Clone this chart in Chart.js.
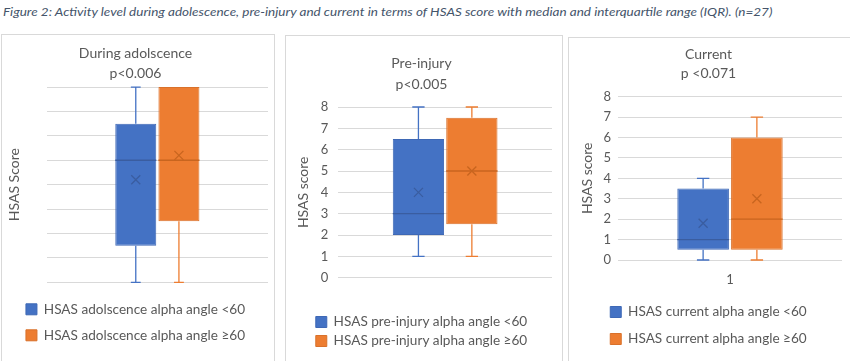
<!DOCTYPE html>
<html>
<head>
<meta charset="utf-8">
<script src="https://cdn.jsdelivr.net/npm/chart.js@4.4.0/dist/chart.umd.min.js"></script>
<style>
body { margin: 0; width: 850px; height: 361px; overflow: hidden; background: #fff; font-family: Lato, sans-serif; }
#caption { position: absolute; left: 3px; top: 4px; font-style: italic; font-size: 12px; color: #44546a; white-space: nowrap; transform-origin: 0 0; }
.panel { position: absolute; border: 1px solid #d9d9d9; background: #fff; overflow: hidden; }
canvas { display: block; }
</style>
</head>
<body>
<div id="caption">Figure 2: Activity level during adolescence, pre-injury and current in terms of HSAS score with median and interquartile range (IQR). (n=27)</div>
<div class="panel" style="left:1px;top:34px;width:272px;height:335px"><canvas id="adolChart" width="272" height="335"></canvas></div>
<div class="panel" style="left:285px;top:35px;width:276px;height:335px"><canvas id="preChart" width="276" height="335"></canvas></div>
<div class="panel" style="left:568px;top:37px;width:288px;height:335px"><canvas id="curChart" width="288" height="335"></canvas></div>
<script>
// values (HSAS score 0-8)
const groupColors = ['#4472c4', '#ed7d31'];
const edgeColors = ['#3e68b5', '#d9712b'];
const lineColors = ['#3a5da0', '#c8651f'];

const adolLabels = ['HSAS adolscence alpha angle <60', 'HSAS adolscence alpha angle \u226560'];
const adolMin = [0, 0];
const adolQ1 = [1.5, 2.5];
const adolMedian = [5, 5];
const adolQ3 = [6.5, 8];
const adolMax = [8, 8];
const adolMean = [4.2, 5.2];

const preLabels = ['HSAS pre-injury alpha angle <60', 'HSAS pre-injury alpha angle \u226560'];
const preMin = [1, 1];
const preQ1 = [2, 2.5];
const preMedian = [3, 5];
const preQ3 = [6.5, 7.5];
const preMax = [8, 8];
const preMean = [4, 5];

const curLabels = ['HSAS current alpha angle <60', 'HSAS current alpha angle \u226560'];
const curMin = [0, 0];
const curQ1 = [0.5, 0.5];
const curMedian = [1, 2];
const curQ3 = [3.5, 6];
const curMax = [4, 7];
const curMean = [1.8, 3];

const yTicks = [0, 1, 2, 3, 4, 5, 6, 7, 8];
const textColor = '#595959';
const fontFamily = 'Lato, sans-serif';

// squeeze the caption to the width it has in the figure
const cap = document.getElementById('caption');
cap.style.transform = 'scaleX(' + (769 / cap.offsetWidth) + ')';

const boxWhiskers = {
    id: 'boxWhiskers',
    afterDatasetsDraw(chart) {
        const ctx = chart.ctx;
        const y = chart.scales.y;
        chart.data.datasets.forEach((ds, i) => {
            const bar = chart.getDatasetMeta(i).data[0];
            const x = bar.x;
            const w = bar.width;
            const s = ds.stats;
            const capW = w * 0.12;
            ctx.save();
            ctx.lineWidth = 1.3;
            ctx.strokeStyle = ds.backgroundColor;
            ctx.beginPath();
            [[s.q3, s.max], [s.q1, s.min]].forEach(([a, b]) => {
                if (a === b) return;
                ctx.moveTo(x, y.getPixelForValue(a));
                ctx.lineTo(x, y.getPixelForValue(b));
                ctx.moveTo(x - capW, y.getPixelForValue(b));
                ctx.lineTo(x + capW, y.getPixelForValue(b));
            });
            ctx.stroke();
            ctx.strokeStyle = ds.lineColor;
            ctx.beginPath();
            const ym = y.getPixelForValue(s.median);
            ctx.moveTo(x - w / 2, ym);
            ctx.lineTo(x + w / 2, ym);
            ctx.stroke();
            const yMean = y.getPixelForValue(s.mean);
            const r = 4.5;
            ctx.beginPath();
            ctx.moveTo(x - r, yMean - r);
            ctx.lineTo(x + r, yMean + r);
            ctx.moveTo(x + r, yMean - r);
            ctx.lineTo(x - r, yMean + r);
            ctx.stroke();
            ctx.restore();
        });
    }
};

function makeBoxChart(id, cfg) {
    const datasets = cfg.labels.map((label, i) => ({
        label: label,
        data: [[cfg.q1[i], cfg.q3[i]]],
        backgroundColor: groupColors[i],
        borderColor: edgeColors[i],
        borderWidth: 1,
        borderSkipped: false,
        lineColor: lineColors[i],
        categoryPercentage: cfg.catPct,
        barPercentage: cfg.barPct,
        stats: { min: cfg.min[i], q1: cfg.q1[i], median: cfg.median[i], q3: cfg.q3[i], max: cfg.max[i], mean: cfg.mean[i] }
    }));
    return new Chart(document.getElementById(id), {
        type: 'bar',
        data: { labels: [cfg.category], datasets: datasets },
        options: {
            responsive: false,
            animation: false,
            devicePixelRatio: 1,
            layout: { padding: cfg.padding },
            plugins: {
                title: {
                    display: true,
                    text: cfg.title,
                    color: textColor,
                    font: { family: fontFamily, size: 14, weight: 'normal', lineHeight: cfg.titleLine },
                    padding: cfg.titlePad
                },
                legend: {
                    position: 'bottom',
                    labels: {
                        boxWidth: 11,
                        boxHeight: 11,
                        color: textColor,
                        font: { family: fontFamily, size: 13.6 },
                        padding: cfg.legendPad
                    }
                },
                tooltip: { enabled: false }
            },
            scales: {
                x: {
                    grid: { display: false },
                    border: { display: false },
                    ticks: { display: cfg.category !== '', color: textColor, font: { family: fontFamily, size: 13 }, padding: 4 },
                    afterFit: (scale) => { scale.height = cfg.xHeight; }
                },
                y: {
                    min: yTicks[0],
                    max: yTicks[yTicks.length - 1],
                    afterBuildTicks: (scale) => { scale.ticks = yTicks.map(v => ({ value: v })); },
                    ticks: { display: cfg.showY, color: textColor, font: { family: fontFamily, size: 13 }, padding: cfg.tickPad },
                    grid: { color: '#d9d9d9', drawTicks: false },
                    border: { display: false },
                    title: { display: true, text: cfg.yTitle, color: textColor, font: { family: fontFamily, size: 14 }, padding: { top: cfg.yTitleTop, bottom: 0 } },
                    afterFit: (scale) => { scale.width = cfg.yWidth; }
                }
            }
        },
        plugins: [boxWhiskers]
    });
}

makeBoxChart('adolChart', {
    labels: adolLabels, min: adolMin, q1: adolQ1, median: adolMedian, q3: adolQ3, max: adolMax, mean: adolMean,
    title: ['During adolscence', 'p<0.006'], yTitle: 'HSAS Score', category: '', showY: false,
    catPct: 0.39, barPct: 0.95, titleLine: 1.43, titlePad: { top: 8, bottom: 4 }, legendPad: 12.4,
    xHeight: 7.8, yWidth: 43.7, yTitleTop: 3, tickPad: 8,
    padding: { left: 1, right: 6, top: 0, bottom: 17.9 }
});
makeBoxChart('preChart', {
    labels: preLabels, min: preMin, q1: preQ1, median: preMedian, q3: preQ3, max: preMax, mean: preMean,
    title: ['Pre-injury', 'p<0.005'], yTitle: 'HSAS score', category: '', showY: true,
    catPct: 0.5, barPct: 0.96, titleLine: 1.5, titlePad: { top: 17, bottom: 12 }, legendPad: 5.4,
    xHeight: 32.1, yWidth: 47.3, yTitleTop: 4, tickPad: 10,
    padding: { left: 5, right: 10, top: 0, bottom: 13.2 }
});
makeBoxChart('curChart', {
    labels: curLabels, min: curMin, q1: curQ1, median: curMedian, q3: curQ3, max: curMax, mean: curMean,
    title: ['Current', 'p <0.071'], yTitle: 'HSAS score', category: '1', showY: true,
    catPct: 0.48, barPct: 0.96, titleLine: 1.38, titlePad: { top: 7, bottom: 13 }, legendPad: 13.4,
    xHeight: 31.8, yWidth: 43, yTitleTop: 4, tickPad: 7,
    padding: { left: 6, right: 15, top: 0, bottom: 17.2 }
});
</script>
</body>
</html>
